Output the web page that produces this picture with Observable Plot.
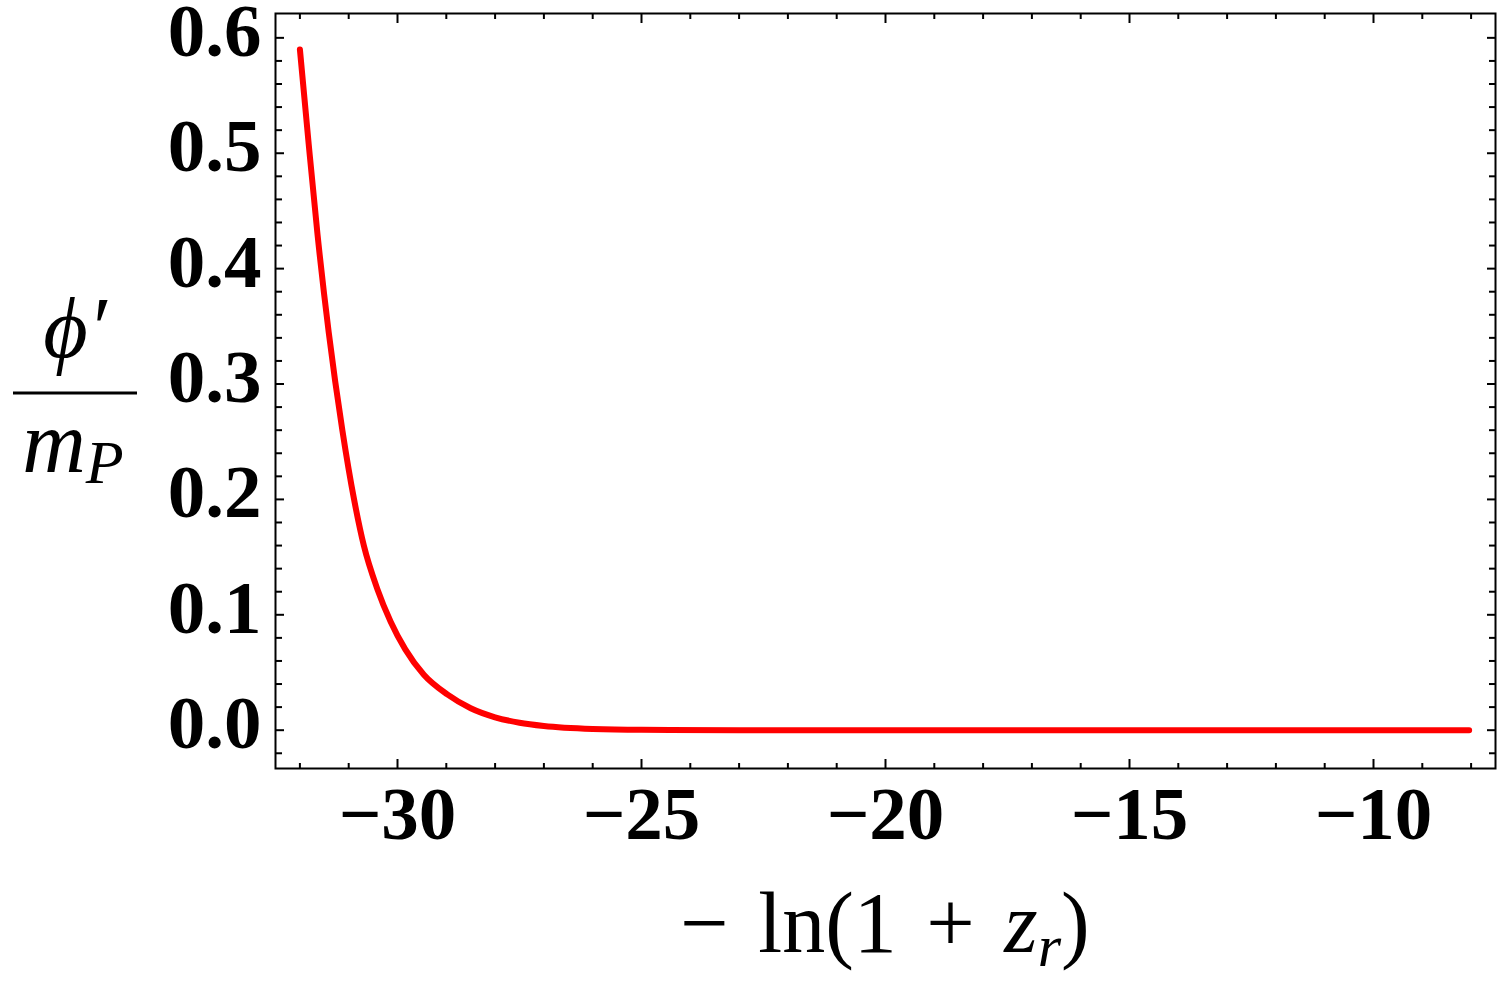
<!DOCTYPE html>
<html><head><meta charset="utf-8">
<script src="https://cdn.jsdelivr.net/npm/d3@7"></script>
<script src="https://cdn.jsdelivr.net/npm/@observablehq/plot@0.6"></script>
<style>body{margin:0;background:#fff}</style></head>
<body><div id="chart"></div>
<script>
// data
const lnZ  = [-32.0, -31.82, -31.64, -31.41, -31.13, -30.89, -30.69, -30.41, -30.14, -29.84, -29.46, -28.98, -28.5, -28.0, -27.5, -27.0, -26.0, -25.0, -23.0, -20.0, -15.0, -8.04];
const phiP = [0.590, 0.508, 0.430, 0.345, 0.260, 0.200, 0.160, 0.122, 0.094, 0.070, 0.048, 0.031, 0.019, 0.0112, 0.0065, 0.0037, 0.0011, 0.0003, 0.00005, 0, 0, 0];

const xMajorTicks = [-30, -25, -20, -15, -10];
const xTickLabels = ["\u221230", "\u221225", "\u221220", "\u221215", "\u221210"];
const xMinorTicks = [-32, -31, -29, -28, -27, -26, -24, -23, -22, -21, -19, -18, -17, -16, -14, -13, -12, -11, -9, -8];
const yMajorTicks = [0, 0.1, 0.2, 0.3, 0.4, 0.5, 0.6];
const yTickLabels = ["0.0", "0.1", "0.2", "0.3", "0.4", "0.5", "0.6"];
const yMinorTicks = [-0.02, 0.02, 0.04, 0.06, 0.08, 0.12, 0.14, 0.16, 0.18, 0.22, 0.24, 0.26, 0.28, 0.32, 0.34, 0.36, 0.38, 0.42, 0.44, 0.46, 0.48, 0.52, 0.54, 0.56, 0.58];

const data = lnZ.map((x, i) => ({x, y: phiP[i]}));
const serif = "'Liberation Serif', 'Times New Roman', serif";

const plot = Plot.plot({
  width: 1500, height: 990,
  marginLeft: 275, marginRight: 5, marginTop: 13, marginBottom: 222,
  style: {fontFamily: serif, fontSize: "75px", fontWeight: "bold", color: "black", background: "white", overflow: "visible"},
  x: {domain: [-32.5, -7.5]},
  y: {domain: [-0.0332, 0.6211]},
  marks: [
    Plot.line(data, {x: "x", y: "y", stroke: "#ff0000", strokeWidth: 6, curve: "monotone-x"}),
    // tick labels
    Plot.axisX(xMajorTicks, {anchor: "bottom", tickSize: 0, tickPadding: 17, tickFormat: (d, i) => xTickLabels[i], label: null}),
    Plot.axisY(yMajorTicks, {anchor: "left", tickSize: 0, tickPadding: 14, dy: -6, tickFormat: (d, i) => yTickLabels[i], label: null}),
    // inward major ticks
    Plot.axisX(xMajorTicks, {anchor: "bottom", tickSize: -9, strokeWidth: 2, text: null, label: null}),
    Plot.axisX(xMajorTicks, {anchor: "top", tickSize: -9, strokeWidth: 2, text: null, label: null}),
    Plot.axisY(yMajorTicks, {anchor: "left", tickSize: -9, strokeWidth: 2, text: null, label: null}),
    Plot.axisY(yMajorTicks, {anchor: "right", tickSize: -9, strokeWidth: 2, text: null, label: null}),
    // inward minor ticks
    Plot.axisX(xMinorTicks, {anchor: "bottom", tickSize: -5, strokeWidth: 2, text: null, label: null}),
    Plot.axisX(xMinorTicks, {anchor: "top", tickSize: -5, strokeWidth: 2, text: null, label: null}),
    Plot.axisY(yMinorTicks, {anchor: "left", tickSize: -7, strokeWidth: 2, text: null, label: null}),
    Plot.axisY(yMinorTicks, {anchor: "right", tickSize: -7, strokeWidth: 2, text: null, label: null}),
    Plot.frame({stroke: "black", strokeWidth: 2})
  ]
});
document.getElementById("chart").appendChild(plot);

// axis labels
const svg = d3.select(plot);
const xl = svg.append("text")
  .attr("x", 885).attr("y", 952)
  .attr("text-anchor", "middle")
  .style("font-family", serif).style("font-size", "86px").style("font-weight", "normal")
  .style("word-spacing", "8px")
  .attr("xml:space", "preserve");
xl.append("tspan").text("\u2212 ln(1 + ");
xl.append("tspan").style("font-style", "italic").text("z");
xl.append("tspan").style("font-style", "italic").style("font-size", "60px").attr("dy", 14).text("r");
xl.append("tspan").attr("dy", -14).text(")");

const yl = svg.append("g")
  .style("font-family", serif).style("font-weight", "normal");
yl.append("text").attr("x", 75).attr("y", 357).attr("text-anchor", "middle")
  .style("font-size", "86px").style("font-style", "italic").text("\u03d5\u2032");
yl.append("line").attr("x1", 13).attr("x2", 137).attr("y1", 393).attr("y2", 393)
  .attr("stroke", "black").attr("stroke-width", 3);
const ml = yl.append("text").attr("x", 73).attr("y", 472).attr("text-anchor", "middle")
  .style("font-size", "88px").style("font-style", "italic");
ml.append("tspan").text("m");
ml.append("tspan").style("font-size", "62px").attr("dy", 11).text("P");
</script>
</body></html>
